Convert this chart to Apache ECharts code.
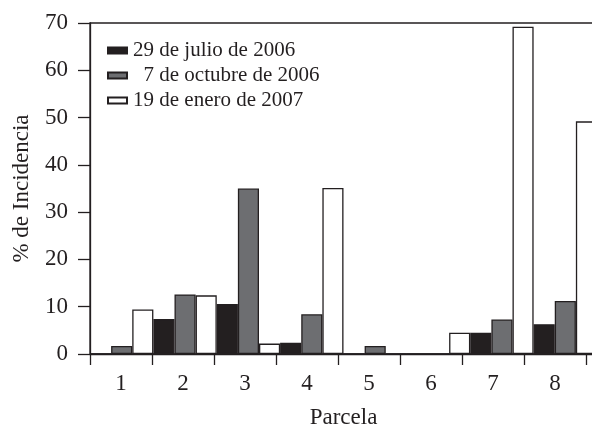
<!DOCTYPE html>
<html>
<head>
<meta charset="utf-8">
<script src="https://cdn.jsdelivr.net/npm/echarts@6/dist/echarts.min.js"></script>
<style>html,body{margin:0;padding:0;background:#fff;}#c{width:592px;height:425px;}</style>
</head>
<body>
<div id="c"></div>
<script>
var categories = ['1', '2', '3', '4', '5', '6', '7', '8'];
var seriesNames = ['29 de julio de 2006', '  7 de octubre de 2006', '19 de enero de 2007'];
var julio2006 = [0, 7.4, 10.6, 2.4, 0, 0, 4.5, 6.3];
var octubre2006 = [1.7, 12.6, 35.0, 8.4, 1.7, 0, 7.3, 11.2];
var enero2007 = [9.4, 12.4, 2.2, 35.1, 0, 4.5, 69.2, 49.2];
var yTicks = { min: 0, max: 70, interval: 10 };

var ink = '#231f20';
var font = 'Liberation Serif';
var chart = echarts.init(document.getElementById('c'), null, { renderer: 'canvas' });

function bar(name, data, color) {
  return {
    name: name, type: 'bar', data: data,
    xAxisIndex: 0, yAxisIndex: 0,
    barGap: '0%', barCategoryGap: '0%',
    itemStyle: { color: color, borderColor: ink, borderWidth: 1.3 },
    z: 3
  };
}

chart.setOption({
  animation: false,
  backgroundColor: '#fff',
  grid: [
    { left: 90, top: 23, width: 507, height: 331, show: true, borderColor: ink, borderWidth: 1.3, backgroundColor: 'transparent', containLabel: false, outerBoundsMode: 'none' },
    { left: 90, top: 23, width: 496, height: 331, show: false, containLabel: false, outerBoundsMode: 'none' }
  ],
  legend: {
    orient: 'vertical', left: 102, top: 35,
    itemWidth: 19, itemHeight: 6, itemGap: 4,
    icon: 'rect',
    textStyle: { fontFamily: font, fontSize: 21, color: ink, padding: [0, 0, 0, 1] },
    data: seriesNames
  },
  xAxis: [
    {
      gridIndex: 0, type: 'category', data: categories,
      name: 'Parcela', nameLocation: 'middle', nameGap: 52,
      nameTextStyle: { fontFamily: font, fontSize: 23, color: ink },
      axisLine: { show: true, lineStyle: { color: ink, width: 1.3 } },
      axisTick: { show: false }, axisLabel: { show: false }
    },
    {
      gridIndex: 1, type: 'category', data: categories,
      axisLine: { show: false },
      axisTick: { show: true, length: 11, alignWithLabel: false, lineStyle: { color: ink, width: 1.3 } },
      axisLabel: { show: true, fontFamily: font, fontSize: 23, color: ink, margin: 18 }
    }
  ],
  yAxis: [
    {
      gridIndex: 0, type: 'value', min: yTicks.min, max: yTicks.max, interval: yTicks.interval,
      name: '% de Incidencia', nameLocation: 'middle', nameGap: 57, nameRotate: 90,
      nameTextStyle: { fontFamily: font, fontSize: 23, color: ink },
      axisLine: { show: true, lineStyle: { color: ink, width: 1.3 } },
      axisTick: { show: true, length: 12, lineStyle: { color: ink, width: 1.3 } },
      axisLabel: { fontFamily: font, fontSize: 23, color: ink, margin: 22 },
      splitLine: { show: false }
    },
    { gridIndex: 1, type: 'value', show: false, min: 0, max: 70 }
  ],
  series: [
    bar(seriesNames[0], julio2006, ink),
    bar(seriesNames[1], octubre2006, '#6d6e71'),
    bar(seriesNames[2], enero2007, '#ffffff')
  ]
});
</script>
</body>
</html>
